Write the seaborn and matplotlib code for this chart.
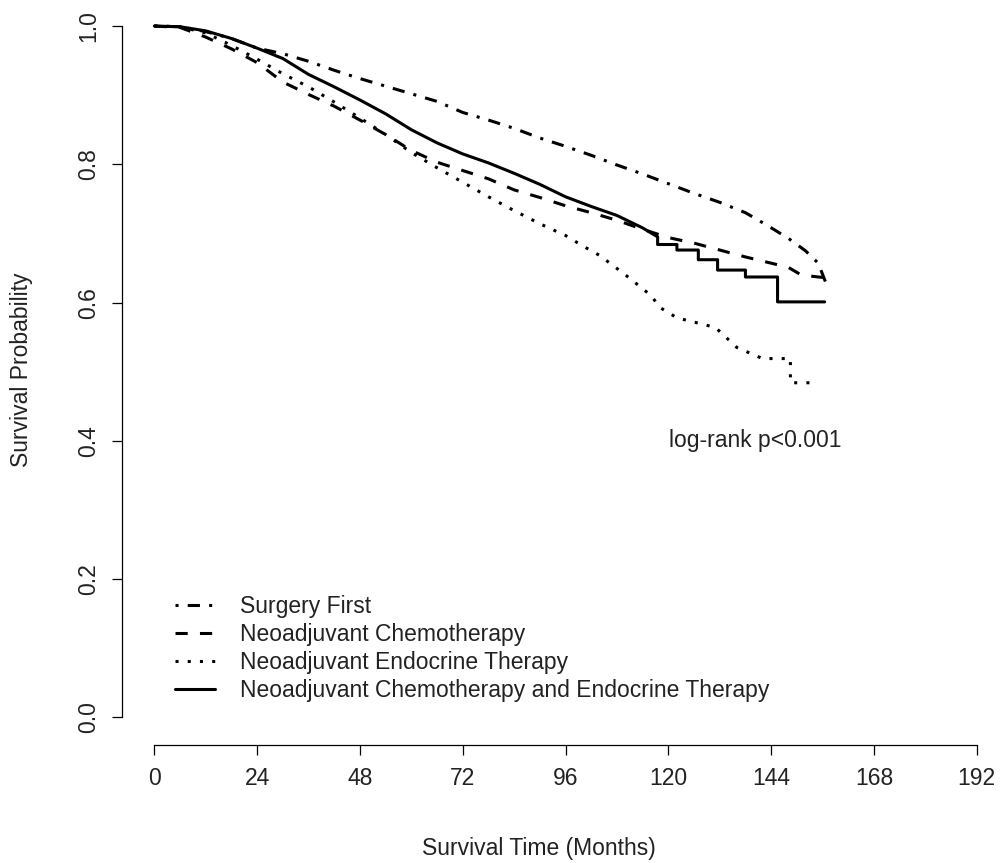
import matplotlib
matplotlib.use('Agg')
import matplotlib.pyplot as plt
import numpy as np
import pandas as pd
import seaborn as sns

# Kaplan-Meier curves (months, survival probability)
surgery_m = [0, 6, 12, 18, 24, 30, 36, 42, 48, 54, 60, 66, 72, 78, 84, 90, 96, 102,
             108, 114, 120, 126, 132, 138, 143, 148, 152, 155, 157]
surgery_s = [1.000, 0.999, 0.992, 0.982, 0.968, 0.960, 0.949, 0.936, 0.924, 0.913, 0.902,
             0.891, 0.875, 0.864, 0.852, 0.838, 0.826, 0.813, 0.799, 0.786, 0.772, 0.758,
             0.745, 0.730, 0.712, 0.693, 0.675, 0.657, 0.625]

chemo_m = [0, 6, 12, 18, 24, 30, 36, 42, 48, 54, 60, 66, 72, 78, 84, 90, 96, 102,
           108, 114, 120, 126, 132, 138, 144, 148, 151, 155, 157]
chemo_s = [1.000, 0.998, 0.984, 0.967, 0.947, 0.919, 0.901, 0.884, 0.864, 0.843, 0.820,
           0.803, 0.791, 0.779, 0.763, 0.752, 0.740, 0.730, 0.719, 0.706, 0.694, 0.686,
           0.676, 0.666, 0.657, 0.651, 0.640, 0.637, 0.636]

endo_m = [0, 6, 12, 18, 24, 30, 36, 42, 48, 54, 60, 66, 72, 78, 84, 90, 96, 100, 104,
          110, 116, 118, 122, 131, 136, 142, 148.5, 148.5, 154.5]
endo_s = [1.000, 0.999, 0.990, 0.972, 0.952, 0.931, 0.912, 0.890, 0.867, 0.843, 0.817,
          0.795, 0.774, 0.753, 0.733, 0.714, 0.697, 0.682, 0.668, 0.640, 0.610, 0.593,
          0.578, 0.564, 0.535, 0.519, 0.519, 0.484, 0.484]

combo_m = [0, 6, 12, 18, 24, 30, 36, 42, 48, 54, 60, 66, 72, 78, 84, 90, 96, 102, 108,
           114, 117.5, 117.5, 122, 122, 127, 127, 131.5, 131.5, 138, 138, 145.5, 145.5, 156.5]
combo_s = [1.000, 0.999, 0.993, 0.982, 0.968, 0.953, 0.930, 0.912, 0.893, 0.873, 0.850,
           0.831, 0.815, 0.802, 0.787, 0.771, 0.753, 0.739, 0.726, 0.708, 0.695, 0.684,
           0.684, 0.676, 0.676, 0.662, 0.662, 0.647, 0.647, 0.637, 0.637, 0.601, 0.601]

groups = ['Surgery First', 'Neoadjuvant Chemotherapy', 'Neoadjuvant Endocrine Therapy',
          'Neoadjuvant Chemotherapy and Endocrine Therapy']
x_ticks = [0, 24, 48, 72, 96, 120, 144, 168, 192]
y_ticks = [0.0, 0.2, 0.4, 0.6, 0.8, 1.0]

df = pd.concat([
    pd.DataFrame({'month': m, 'surv': s, 'group': g})
    for m, s, g in zip([surgery_m, chemo_m, endo_m, combo_m],
                       [surgery_s, chemo_s, endo_s, combo_s], groups)
], ignore_index=True)

sns.set_style('ticks')
plt.rcParams['font.family'] = ['Liberation Sans', 'DejaVu Sans']

fig = plt.figure(figsize=(10.01, 8.63), dpi=100)
W, H = 1001, 863
ax = fig.add_axes([121.5 / W, 118 / H, 888.1 / W, 746.6 / H])

line_styles = {groups[0]: (1, 3, 4, 3), groups[1]: (4, 4),
               groups[2]: (1, 3), groups[3]: ''}
sns.lineplot(data=df, x='month', y='surv', style='group', style_order=groups,
             dashes=line_styles, color='black', linewidth=2.2, estimator=None,
             sort=False, ax=ax, legend=False)

ax.set_xlim(-7.68, 199.68)
ax.set_ylim(-0.04, 1.04)
ax.set_xticks(x_ticks)
ax.set_yticks(y_ticks)
ax.set_xticklabels([str(t) for t in x_ticks])
ax.set_yticklabels([f'{t:.1f}' for t in y_ticks], rotation=90, va='center')
for side in ['top', 'right']:
    ax.spines[side].set_visible(False)
ax.spines['left'].set_bounds(0, 1)
ax.spines['bottom'].set_bounds(0, 192)
for side in ['left', 'bottom']:
    ax.spines[side].set_linewidth(0.9)
    ax.spines[side].set_color('black')
ax.tick_params(axis='both', direction='out', length=7.5, width=0.9, color='black',
               labelsize=16.5, labelcolor='#222222', pad=8)

ax.set_xlabel('Survival Time (Months)', fontsize=16.5, color='#222222', va='center')
ax.xaxis.set_label_coords((539 - 121.5) / 888.1, (745 - 848) / 746.6)
ax.set_ylabel('Survival Probability', fontsize=16.5, color='#222222', va='center')
ax.yaxis.set_label_coords((22 - 121.5) / 888.1, (745 - 370) / 746.6)

ax.text(140.2, 0.40, 'log-rank p<0.001', fontsize=16.5, color='#222222',
        ha='center', va='center')

handles = ax.get_lines()[:4]
ax.legend(handles, groups, loc='upper left', bbox_to_anchor=(175 / W, 1 - 595 / H),
          bbox_transform=fig.transFigure, frameon=False, fontsize=16.5,
          handlelength=1.75, handletextpad=1.1, labelspacing=0.22,
          borderpad=0, borderaxespad=0, labelcolor='#222222')

fig.savefig('out.png', dpi=100)
